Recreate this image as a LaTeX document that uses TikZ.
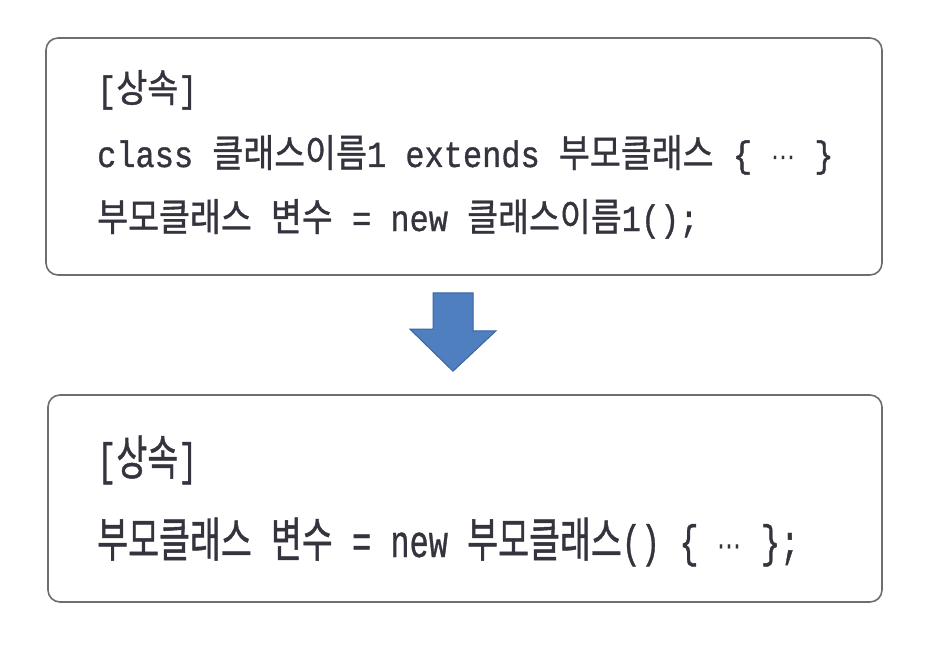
\documentclass[tikz,border=0pt]{standalone}
\usepackage{fontspec}
\usepackage{graphicx}
\setmainfont{Liberation Mono}[FakeBold=1]
\newfontfamily\hangul{Noto Sans CJK KR}[Scale=1.05, FakeBold=1]
\newfontfamily\symfont{DejaVu Sans}[Scale=0.75]
\usetikzlibrary{calc}

\definecolor{boxline}{HTML}{6E6E6E}
\definecolor{codetext}{HTML}{34343E}
\definecolor{arrowfill}{HTML}{4F7FBE}
\definecolor{arrowline}{HTML}{3B64A0}

\newcommand{\ko}[1]{{\hangul #1}}
\newcommand{\ellip}{{\symfont ⋯}}
\newcommand{\upline}[1]{\scalebox{1}[1.15]{#1}}
\newcommand{\tall}[1]{\scalebox{1}[1.42]{#1}}

\begin{document}
\begin{tikzpicture}[
    x=1pt, y=-1pt,
    codebox/.style={rectangle, draw=boxline, line width=1.6pt, rounded corners=12pt, fill=white, inner sep=0pt},
    codeline/.style={anchor=base west, inner sep=0pt, text=codetext, font=\fontsize{32}{38}\selectfont},
    blockarrow/.style={fill=arrowfill, draw=arrowline, line width=1pt, line join=miter}
]
    \fill[white] (0,0) rectangle (948,650);
    \useasboundingbox (0,0) rectangle (948,650);

    % the two code boxes
    \node[codebox, minimum width=836pt, minimum height=237pt] (upper) at (464,156.5) {};
    \node[codebox, minimum width=834pt, minimum height=207pt] (lower) at (465,498.5) {};

    % upper box text
    \node[codeline] (u1) at (97,102) {\upline{[\ko{상속}]}};
    \node[codeline] (u2) at (97,167) {\upline{class \ko{클래스이름}1 extends \ko{부모클래스} \{ \ellip\ \}}};
    \node[codeline] (u3) at (97,231) {\upline{\ko{부모클래스} \ko{변수} = new \ko{클래스이름}1();}};

    % lower box text
    \node[codeline] (l1) at (97,475) {\tall{[\ko{상속}]}};
    \node[codeline] (l2) at (97,557) {\tall{\ko{부모클래스} \ko{변수} = new \ko{부모클래스}() \{ \ellip\ \};}};

    % block arrow between the boxes
    \coordinate (atop) at ($(upper.south)+(-11,17)$);
    \coordinate (atip) at ($(lower.north)+(-12,-23)$);
    \draw[blockarrow] (atop) ++(-20,0) -- ++(40,0) -- ++(0,38) -- ++(23,0) -- (atip) -- ++(-43,-42) -- ++(23,0) -- cycle;
\end{tikzpicture}
\end{document}
